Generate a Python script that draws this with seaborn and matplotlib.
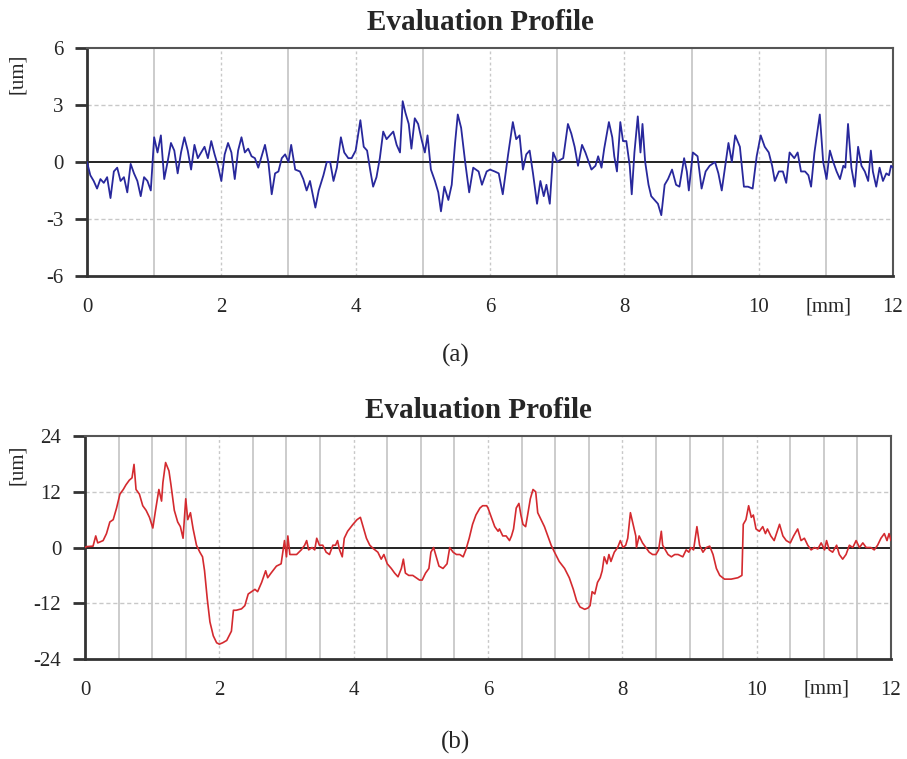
import numpy as np
import pandas as pd
import matplotlib
matplotlib.use("Agg")
import matplotlib.pyplot as plt
import seaborn as sns

# ---------- data ----------
x_a = [0.00, 0.05, 0.10, 0.15, 0.20, 0.25, 0.30, 0.35, 0.40, 0.45, 0.50, 0.55, 0.60, 0.65, 0.70,
       0.75, 0.80, 0.85, 0.90, 0.95, 1.00, 1.05, 1.10, 1.15, 1.20, 1.25, 1.30, 1.35, 1.40, 1.45,
       1.50, 1.55, 1.60, 1.65, 1.70, 1.75, 1.80, 1.85, 1.90, 1.95, 2.00, 2.05, 2.10, 2.15, 2.20,
       2.25, 2.30, 2.35, 2.40, 2.45, 2.50, 2.55, 2.60, 2.65, 2.70, 2.75, 2.80, 2.85, 2.90, 2.95,
       3.00, 3.04, 3.10, 3.17, 3.22, 3.27, 3.32, 3.40, 3.45, 3.52, 3.57, 3.62, 3.67, 3.72, 3.78,
       3.83, 3.89, 3.94, 4.00, 4.07, 4.12, 4.17, 4.22, 4.26, 4.31, 4.36, 4.41, 4.46, 4.51, 4.56,
       4.61, 4.66, 4.70, 4.74, 4.79, 4.83, 4.88, 4.93, 4.98, 5.03, 5.07, 5.12, 5.18, 5.23, 5.27,
       5.32, 5.38, 5.43, 5.48, 5.52, 5.57, 5.63, 5.69, 5.75, 5.83, 5.88, 5.95, 6.00, 6.07, 6.13,
       6.19, 6.27, 6.34, 6.39, 6.44, 6.49, 6.54, 6.59, 6.64, 6.70, 6.75, 6.80, 6.84, 6.89, 6.94,
       7.00, 7.04, 7.09, 7.16, 7.21, 7.26, 7.31, 7.37, 7.42, 7.47, 7.51, 7.57, 7.61, 7.66, 7.70,
       7.77, 7.82, 7.85, 7.89, 7.94, 7.98, 8.03, 8.08, 8.11, 8.15, 8.20, 8.24, 8.27, 8.31, 8.36,
       8.40, 8.45, 8.50, 8.55, 8.60, 8.65, 8.71, 8.77, 8.82, 8.89, 8.93, 8.96, 9.02, 9.09, 9.15,
       9.21, 9.27, 9.35, 9.40, 9.45, 9.51, 9.55, 9.60, 9.65, 9.72, 9.78, 9.84, 9.91, 9.97, 10.03,
       10.09, 10.15, 10.20, 10.24, 10.30, 10.36, 10.41, 10.46, 10.53, 10.58, 10.63, 10.69, 10.74,
       10.78, 10.83, 10.91, 10.96, 11.01, 11.06, 11.11, 11.16, 11.21, 11.26, 11.29, 11.33, 11.38,
       11.43, 11.48, 11.53, 11.58, 11.63, 11.67, 11.70, 11.75, 11.80, 11.85, 11.90, 11.94, 11.97,
       12.00]
y_a = [0.0, -0.7, -1.0, -1.4, -0.9, -1.1, -0.8, -1.9, -0.5, -0.3, -1.0, -0.8, -1.6, -0.1, -0.6,
       -1.0, -1.8, -0.8, -1.0, -1.5, 1.3, 0.5, 1.4, -0.9, 0.0, 1.0, 0.6, -0.6, 0.5, 1.3,
       0.6, -0.4, 0.9, 0.2, 0.5, 0.8, 0.2, 1.1, 0.4, -0.2, -1.0, 0.4, 1.0, 0.5, -0.9,
       0.6, 1.3, 0.5, 0.7, 0.3, 0.2, -0.3, 0.3, 0.9, 0.0, -1.7, -0.6, -0.5, 0.2, 0.4,
       0.0, 0.9, -0.4, -0.5, -0.9, -1.5, -1.0, -2.4, -1.5, -0.7, 0.0, 0.0, -1.0, -0.3, 1.3,
       0.5, 0.2, 0.2, 0.6, 2.2, 0.8, 0.6, -0.5, -1.3, -0.8, 0.2, 1.6, 1.2, 1.4, 1.6,
       0.9, 0.5, 3.2, 2.6, 2.0, 0.7, 2.3, 2.0, 1.2, 0.5, 1.4, -0.4, -1.0, -1.6, -2.6,
       -1.3, -2.0, -1.2, 1.0, 2.5, 1.8, 0.0, -1.6, -0.3, -0.5, -1.2, -0.5, -0.4, -0.5, -0.6,
       -1.7, 0.4, 2.1, 1.2, 1.4, -0.4, 0.4, 0.6, -0.6, -2.2, -1.0, -1.8, -1.2, -2.2, 0.5,
       0.0, 0.1, 0.2, 2.0, 1.5, 0.8, -0.2, 0.9, 0.5, 0.0, -0.4, -0.2, 0.3, -0.3, 0.7,
       2.1, 1.3, 0.3, -0.5, 2.1, 1.1, 1.1, -0.2, -1.7, 0.5, 2.4, 0.5, 2.0, 0.0, -1.2,
       -1.8, -2.0, -2.2, -2.8, -1.2, -0.9, -0.4, -1.2, -1.3, 0.2, -0.5, -1.5, 0.5, 0.3, -1.4,
       -0.5, -0.2, 0.0, -0.6, -1.5, 0.0, 1.0, 0.0, 1.4, 0.8, -1.3, -1.3, -1.4, 0.3, 1.4,
       0.8, 0.5, -0.2, -1.0, -0.5, -0.5, -1.1, 0.5, 0.2, 0.5, -0.5, -0.5, -0.7,
       -1.3, 0.5, 2.5, 0.0, -0.9, 0.6, 0.0, -0.5, -0.9, -0.2, -0.3, 2.0, -0.3,
       -1.3, 0.8, -0.2, -0.5, -1.0, 0.6, -0.5, -1.3, -0.3, -1.0, -0.6, -0.7, -0.2,
       -0.3]

x_b = [0.00, 0.02, 0.12, 0.16, 0.19, 0.27, 0.32, 0.37, 0.42, 0.47, 0.52, 0.57, 0.61, 0.66, 0.70,
       0.73, 0.76, 0.81, 0.86, 0.91, 0.96, 1.01, 1.05, 1.10, 1.14, 1.16, 1.20, 1.25, 1.28, 1.33,
       1.38, 1.42, 1.46, 1.50, 1.53, 1.57, 1.61, 1.66, 1.71, 1.75, 1.78, 1.82, 1.86, 1.91, 1.96,
       2.00, 2.05, 2.11, 2.18, 2.21, 2.25, 2.33, 2.38, 2.43, 2.48, 2.53, 2.57, 2.63, 2.69, 2.72,
       2.77, 2.85, 2.92, 2.95, 2.97, 3.00, 3.02, 3.05, 3.10, 3.15, 3.22, 3.27, 3.30, 3.33, 3.38,
       3.42, 3.45, 3.49, 3.54, 3.59, 3.64, 3.69, 3.73, 3.76, 3.79, 3.83, 3.86, 3.91, 3.99, 4.05,
       4.10, 4.15, 4.19, 4.24, 4.29, 4.36, 4.41, 4.45, 4.50, 4.56, 4.61, 4.66, 4.71, 4.74, 4.77,
       4.82, 4.88, 4.93, 4.98, 5.02, 5.07, 5.12, 5.15, 5.19, 5.23, 5.27, 5.33, 5.39, 5.43, 5.48,
       5.53, 5.58, 5.63, 5.67, 5.72, 5.77, 5.82, 5.88, 5.92, 5.98, 6.00, 6.05, 6.10, 6.15, 6.17,
       6.22, 6.27, 6.32, 6.35, 6.38, 6.42, 6.46, 6.49, 6.52, 6.56, 6.59, 6.63, 6.67, 6.71, 6.74,
       6.79, 6.84, 6.89, 6.94, 6.99, 7.06, 7.14, 7.21, 7.27, 7.32, 7.37, 7.44, 7.49, 7.52, 7.55,
       7.59, 7.63, 7.67, 7.70, 7.73, 7.77, 7.80, 7.83, 7.88, 7.93, 7.97, 8.01, 8.05, 8.08, 8.12,
       8.16, 8.20, 8.21, 8.25, 8.30, 8.35, 8.40, 8.45, 8.50, 8.54, 8.58, 8.60, 8.64, 8.68, 8.73,
       8.78, 8.83, 8.90, 8.95, 8.99, 9.02, 9.06, 9.11, 9.15, 9.20, 9.25, 9.30, 9.35, 9.40, 9.45,
       9.52, 9.62, 9.72, 9.78, 9.80, 9.84, 9.88, 9.92, 9.95, 9.99, 10.04, 10.09, 10.13, 10.16,
       10.21, 10.26, 10.34, 10.39, 10.44, 10.50, 10.55, 10.61, 10.66, 10.71, 10.76, 10.81, 10.86,
       10.91, 10.96, 11.01, 11.04, 11.08, 11.13, 11.19, 11.23, 11.28, 11.33, 11.38, 11.43, 11.48,
       11.53, 11.58, 11.63, 11.70, 11.75, 11.80, 11.85, 11.90, 11.94, 11.97, 12.00]
y_b = [0.0, 0.2, 0.3, 2.5, 1.0, 1.5, 3.0, 5.5, 6.0, 8.5, 11.5, 12.5, 13.5, 14.5, 15.0,
       17.9, 12.5, 11.5, 9.0, 8.0, 6.5, 4.2, 8.0, 12.5, 10.0, 14.0, 18.3, 16.5, 13.5, 8.0,
       5.5, 4.5, 2.0, 10.5, 6.0, 7.5, 4.0, 0.5, -1.0, -2.0, -5.0, -11.0, -16.0, -19.0, -20.5,
       -20.8, -20.5, -20.0, -18.0, -13.5, -13.5, -13.2, -12.5, -10.0, -9.5, -9.0, -9.5, -7.5, -5.0, -6.5,
       -5.5, -4.0, -3.5, -0.5, 1.5, -2.0, 2.5, -1.5, -1.5, -1.5, -0.5, 0.5, 1.5, -0.5, 0.0,
       -0.5, 2.0, 0.5, 0.5, -1.0, -1.5, 0.5, 0.5, 1.5, -0.5, -2.0, 2.0, 3.5, 5.0, 6.0,
       6.5, 4.0, 2.0, 0.5, -0.2, -1.0, -2.5, -1.5, -3.5, -4.5, -5.5, -6.3, -4.5, -2.5, -5.5,
       -6.0, -6.0, -6.5, -7.0, -7.0, -5.5, -4.5, -1.0, 0.0, -2.0, -4.0, -4.5, -3.5, 0.0, -1.0,
       -1.5, -1.5, -2.0, -0.5, 2.0, 5.0, 7.0, 8.5, 9.0, 9.0, 8.5, 6.5, 4.5, 3.5, 4.0,
       2.5, 2.5, 1.5, 2.5, 4.0, 8.5, 9.5, 7.0, 5.0, 4.5, 7.0, 10.5, 12.5, 12.0, 7.5,
       6.0, 4.5, 2.5, 0.5, -1.0, -3.0, -4.5, -6.5, -9.0, -11.5, -12.8, -13.3, -13.0, -12.5, -9.5,
       -10.0, -7.5, -6.5, -5.0, -2.0, -3.5, -1.5, -3.0, -1.0, 0.0, 1.5, 0.0, 0.5, 2.0, 7.5,
       5.0, 2.5, 0.0, 2.5, 1.0, 0.0, -1.0, -1.5, -1.5, -0.5, 3.5, 0.5, -0.5, -1.5, -2.0,
       -1.5, -1.5, -2.0, -0.5, -1.0, 0.0, -0.5, 4.5, 0.5, -1.0, 0.0, 0.3, -1.5, -4.5, -6.0,
       -6.8, -6.8, -6.5, -6.0, 5.0, 6.0, 9.0, 6.5, 7.0, 4.0, 3.5, 4.5, 3.0, 4.0,
       2.5, 1.5, 5.0, 2.5, 1.5, 1.0, 2.5, 4.0, 1.5, 2.0, 0.5, -0.5, 0.0,
       -0.3, 1.0, -0.5, 1.5, -0.5, -1.0, 0.5, -1.5, -2.5, -1.5, 0.5, 0.0, 1.5,
       0.0, 1.0, 0.0, 0.0, -0.5, 0.5, 2.0, 3.0, 1.5, 3.0, 1.5]

x_ticks = [0, 2, 4, 6, 8, 10, 12]
yticks_a = [-6, -3, 0, 3, 6]
yticks_b = [-24, -12, 0, 12, 24]
title = "Evaluation Profile"

df_a = pd.DataFrame({"x": x_a, "y": y_a})
df_b = pd.DataFrame({"x": x_b, "y": y_b})

# ---------- style ----------
sns.set_style("white")
plt.rcParams["font.family"] = ["Liberation Serif", "DejaVu Serif"]

fig = plt.figure(figsize=(9.07, 7.59), dpi=100)
ax_a = fig.add_axes([0.0959, 0.6364, 0.8887, 0.3004])
ax_b = fig.add_axes([0.0937, 0.1317, 0.8887, 0.2938])

grid_c = "#c8c8c8"


def style_axis(ax, yticks, vlines_solid, vlines_dot, hlines):
    ax.set_xlim(0, 12)
    ax.set_ylim(yticks[0], yticks[-1])
    for v in vlines_solid:
        ax.axvline(v, color=grid_c, lw=1.3, zorder=0)
    for v in vlines_dot:
        ax.axvline(v, color=grid_c, lw=1.0, ls=(0, (2, 2)), zorder=0)
    for h in hlines:
        ax.axhline(h, color=grid_c, lw=1.0, ls=(0, (3, 2)), zorder=0)
    ax.axhline(0, color="#222222", lw=1.4, zorder=1)
    ax.set_xticks(x_ticks)
    ax.set_xticklabels([str(t) for t in x_ticks])
    ax.set_yticks(yticks)
    ax.set_yticklabels([str(t) for t in yticks])
    ax.tick_params(axis="x", length=0, pad=16, labelsize=15)
    ax.tick_params(axis="y", length=9, width=2, color="#333333", pad=8, labelsize=15, left=True)
    for s in ["left", "bottom"]:
        ax.spines[s].set_color("#333333")
        ax.spines[s].set_linewidth(2.0)
    for s in ["top", "right"]:
        ax.spines[s].set_color("#555555")
        ax.spines[s].set_linewidth(1.5)
    ax.set_title(title, fontsize=21, fontweight="bold", pad=13, x=0.488)
    ax.text(11.04, -0.135, "[mm]", transform=ax.get_xaxis_transform(),
            ha="center", va="center", fontsize=15)


style_axis(ax_a, yticks_a,
           vlines_solid=[1, 3, 5, 7, 9, 11], vlines_dot=[2, 4, 6, 8, 10], hlines=[-3, 3])
sns.lineplot(data=df_a, x="x", y="y", ax=ax_a, color="#28289c", lw=1.3, zorder=3)

style_axis(ax_b, yticks_b,
           vlines_solid=[0.5, 1, 1.5, 2.5, 3, 3.5, 4.5, 5, 5.5, 6.5, 7, 7.5, 8.5, 9, 9.5,
                         10.5, 11, 11.5],
           vlines_dot=[2, 4, 6, 8, 10], hlines=[-12, 12])
sns.lineplot(data=df_b, x="x", y="y", ax=ax_b, color="#d42a2f", lw=1.2, zorder=3)

for ax in (ax_a, ax_b):
    ax.set_xlabel("")
    ax.set_ylabel("")

fig.text(0.019, 0.903, "[um]", rotation=90, ha="center", va="center", fontsize=15)
fig.text(0.019, 0.388, "[um]", rotation=90, ha="center", va="center", fontsize=15)
fig.text(0.502, 0.532, "(a)", ha="center", va="center", fontsize=18)
fig.text(0.502, 0.022, "(b)", ha="center", va="center", fontsize=18)

fig.savefig("out.png", dpi=100)
